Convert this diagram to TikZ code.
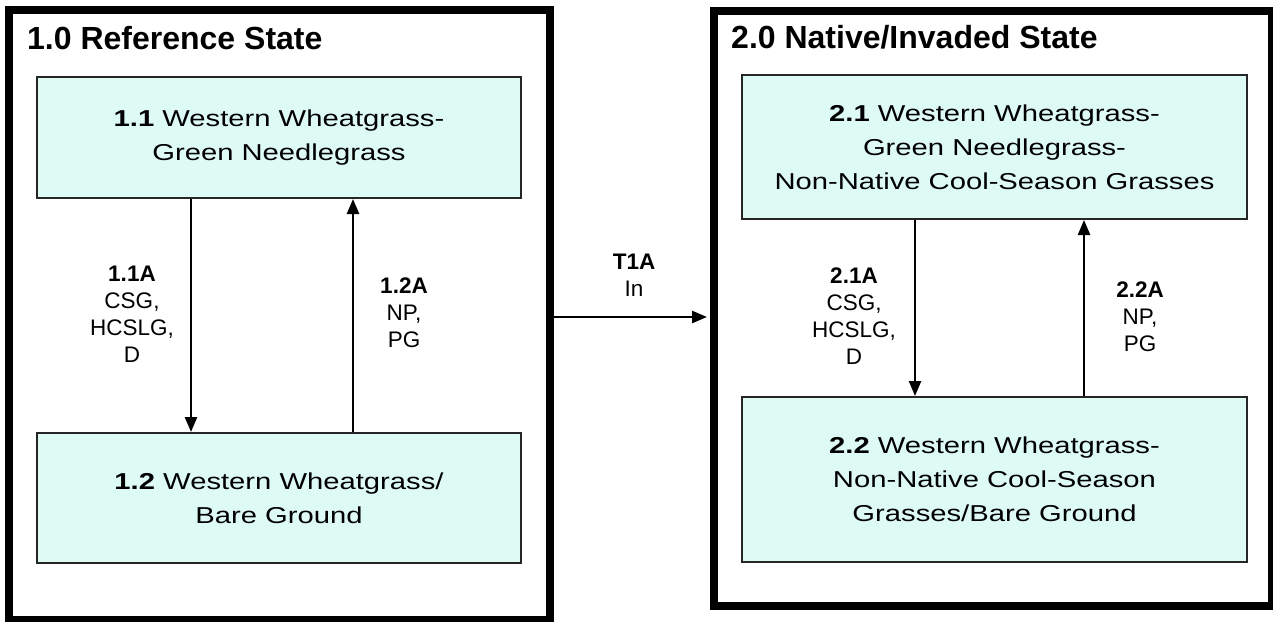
\documentclass[tikz,border=0pt]{standalone}
\usepackage{fontspec}
\setmainfont{Liberation Sans}
\newfontfamily\widefont[FakeStretch=1.27]{Liberation Sans}
\usetikzlibrary{arrows.meta}
\definecolor{phasefill}{RGB}{222,250,244}

\begin{document}
\begin{tikzpicture}[
  x=1pt, y=-1pt,
  statebox/.style={draw,line width=8pt,inner sep=0pt},
  phase/.style={draw=black!85,line width=2pt,fill=phasefill,align=center,inner sep=0pt,
    font=\widefont\fontsize{23}{34}\selectfont},
  statetitle/.style={anchor=west,inner sep=0pt,font=\fontsize{32}{38}\selectfont\bfseries},
  lbl/.style={align=center,inner sep=0pt,font=\fontsize{22.5}{27}\selectfont},
  pathway/.style={-{Triangle[length=15pt,width=12pt]},line width=2.5pt}
]
\useasboundingbox (0,0) rectangle (1273,621);
\node[statebox,minimum width=541pt,minimum height=610pt] (ref) at (279.5,315) {};
\node[statebox,minimum width=558pt,minimum height=595pt] (inv) at (993,308.5) {};
\node[statetitle] (t1) at (27,38) {1.0 Reference State};
\node[statetitle] (t2) at (731,37) {2.0 Native/Invaded State};
\node[phase,minimum width=484pt,minimum height=121pt] (p11) at (279,137.5) {\textbf{1.1} Western Wheatgrass-\\Green Needlegrass};
\node[phase,minimum width=484pt,minimum height=130pt] (p12) at (279,498) {\textbf{1.2} Western Wheatgrass/\\Bare Ground};
\node[phase,minimum width=505pt,minimum height=144pt] (p21) at (994.5,147) {\textbf{2.1} Western Wheatgrass-\\Green Needlegrass-\\Non-Native Cool-Season Grasses};
\node[phase,minimum width=505pt,minimum height=165pt] (p22) at (994.5,479.5) {\textbf{2.2} Western Wheatgrass-\\Non-Native Cool-Season\\Grasses/Bare Ground};
\node[lbl] (a11) at (132,314) {\textbf{1.1A}\\CSG,\\HCSLG,\\D};
\node[lbl] (a12) at (404,313) {\textbf{1.2A}\\NP,\\PG};
\node[lbl] (a21) at (854,316) {\textbf{2.1A}\\CSG,\\HCSLG,\\D};
\node[lbl] (a22) at (1140,317) {\textbf{2.2A}\\NP,\\PG};
\node[lbl] (t1a) at (634,275) {\textbf{T1A}\\In};
\path ([xshift=-88pt]p11.south) edge[pathway] ([xshift=-88pt]p12.north);
\path ([xshift=74pt]p12.north) edge[pathway] ([xshift=74pt]p11.south);
\path ([xshift=-79.5pt]p21.south) edge[pathway] ([xshift=-79.5pt]p22.north);
\path ([xshift=89.5pt]p22.north) edge[pathway] ([xshift=89.5pt]p21.south);
\coordinate (tr) at (632,317);
\path (ref.east |- tr) edge[pathway,shorten >=3pt] (inv.west |- tr);
\end{tikzpicture}
\end{document}
